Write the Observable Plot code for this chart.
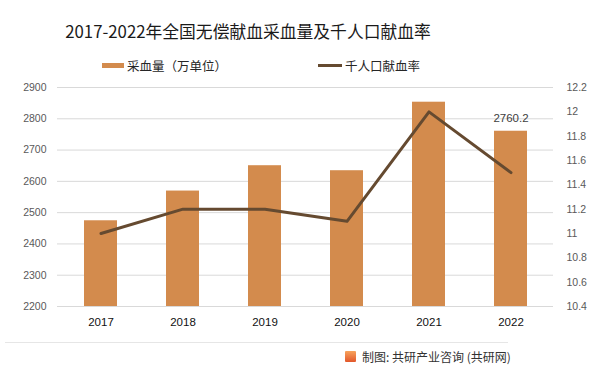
<!DOCTYPE html>
<html>
<head>
<meta charset="utf-8">
<script src="https://cdn.jsdelivr.net/npm/d3@7"></script>
<script src="https://cdn.jsdelivr.net/npm/@observablehq/plot@0.6"></script>
<style>
  html, body { margin: 0; padding: 0; background: #fff; }
  #wrap { position: relative; width: 604px; height: 373px; overflow: hidden; font-family: "Noto Sans CJK SC", "Noto Sans", sans-serif; }
  #chart { position: absolute; left: 0; top: 0; }
  .title { position: absolute; left: 0; width: 496px; top: 19px; text-align: center; font-size: 16.8px; font-weight: 400; color: #1a1a1a; white-space: nowrap; }
  .leg { position: absolute; top: 56px; font-size: 12.5px; color: #262626; display: flex; align-items: center; white-space: nowrap; }
  .sw-bar { width: 22px; height: 5px; background: #D38B4D; margin-right: 3px; }
  .sw-line { width: 24px; height: 3px; background: #654A30; margin-right: 3px; }
  .sep { position: absolute; left: 5px; width: 503px; top: 342px; height: 1px; background: #e6e6e6; }
  .footer { position: absolute; top: 348px; left: 345px; font-size: 12px; color: #333; display: flex; align-items: center; white-space: nowrap; }
  .logo { width: 11px; height: 11px; margin-right: 6px; background: linear-gradient(180deg, #f7a35c, #e2572b); border-radius: 1px; }
</style>
</head>
<body>
<div id="wrap">
  <div id="chart"></div>
  <div class="title">2017-2022年全国无偿献血采血量及千人口献血率</div>
  <div class="leg" style="left:102px"><div class="sw-bar"></div>采血量（万单位）</div>
  <div class="leg" style="left:318px"><div class="sw-line"></div>千人口献血率</div>
  <div class="sep"></div>
  <div class="footer"><div class="logo"></div>制图: 共研产业咨询 (共研网)</div>
</div>
<script>
const years = ["2017", "2018", "2019", "2020", "2021", "2022"];
const volume = [2474, 2569, 2650, 2634, 2853, 2760.2];
const rate = [11.0, 11.2, 11.2, 11.1, 12.0, 11.5];
const leftTicks = [2200, 2300, 2400, 2500, 2600, 2700, 2800, 2900];
const rightTicks = [10.4, 10.6, 10.8, 11, 11.2, 11.4, 11.6, 11.8, 12, 12.2];
const labelYear = "2022";

const L0 = 2200, L1 = 2900, R0 = 10.4, R1 = 12.2;
const toLeft = v => L0 + (v - R0) / (R1 - R0) * (L1 - L0);
const fromLeft = v => R0 + (v - L0) / (L1 - L0) * (R1 - R0);

const data = years.map((y, i) => ({year: y, value: volume[i], rate: rate[i]}));

const chart = Plot.plot({
  width: 604,
  height: 373,
  marginTop: 87,
  marginBottom: 67,
  marginLeft: 57,
  marginRight: 51,
  style: {fontFamily: "'Liberation Sans', Arial, sans-serif", background: "transparent"},
  x: {type: "band", domain: years, paddingInner: 0.6, paddingOuter: 0.3, label: null},
  y: {domain: [L0, L1], label: null},
  marks: [
    Plot.gridY(leftTicks, {stroke: "#d9d9d9", strokeOpacity: 1, strokeWidth: 1}),
    Plot.barY(data, {x: "year", y1: L0, y2: "value", fill: "#D38B4D"}),
    Plot.line(data, {x: "year", y: d => toLeft(d.rate), stroke: "#654A30", strokeWidth: 3, strokeLinejoin: "round", strokeLinecap: "round"}),
    Plot.text(data.filter(d => d.year === labelYear), {x: "year", y: "value", text: d => d.value.toFixed(1), dy: -13, fontSize: 11.5, fill: "#404040"}),
    Plot.axisY({ticks: leftTicks, tickFormat: d => String(d), tickSize: 0, tickPadding: 11, fontSize: 10.5, color: "#595959", label: null}),
    Plot.axisY({anchor: "right", ticks: rightTicks.map(toLeft), tickFormat: v => String(+fromLeft(v).toFixed(1)), tickSize: 0, tickPadding: 13, fontSize: 10.5, color: "#595959", label: null}),
    Plot.axisX({tickSize: 0, tickPadding: 11, fontSize: 11.5, color: "#111", label: null})
  ]
});
document.getElementById("chart").appendChild(chart);
</script>
</body>
</html>
